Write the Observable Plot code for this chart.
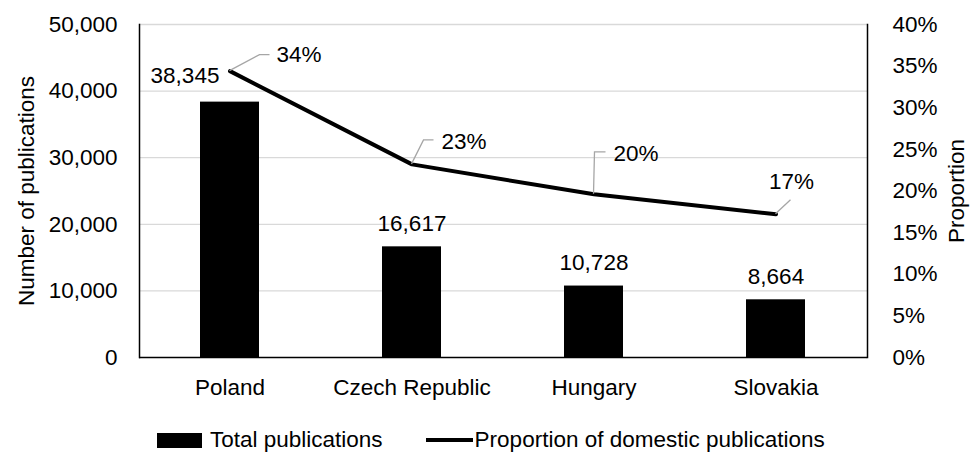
<!DOCTYPE html>
<html>
<head>
<meta charset="utf-8">
<script src="https://cdn.jsdelivr.net/npm/d3@7"></script>
<script src="https://cdn.jsdelivr.net/npm/@observablehq/plot@0.6"></script>
<style>
  html, body { margin: 0; padding: 0; background: #fff; }
  body { width: 975px; height: 454px; overflow: hidden; font-family: "Liberation Sans", Arial, sans-serif; }
  .legend { height: 39px; box-sizing: border-box; padding-left: 157px; padding-top: 11px; display: flex; align-items: center; font-size: 22.5px; color: #000; }
  .legend .sw { width: 45px; height: 15px; background: #000; margin-right: 8px; }
  .legend .ln { width: 47px; height: 4px; background: #000; margin-left: 43px; margin-right: 2px; }
</style>
</head>
<body>
<div id="chart"></div>
<div class="legend">
  <span class="sw"></span><span>Total publications</span>
  <span class="ln"></span><span>Proportion of domestic publications</span>
</div>
<script>
const countries = ["Poland", "Czech Republic", "Hungary", "Slovakia"];
const totals = [38345, 16617, 10728, 8664];
const proportions = [0.344, 0.232, 0.196, 0.172];
const countTicks = [0, 10000, 20000, 30000, 40000, 50000];
const propTicks = [0, 0.05, 0.10, 0.15, 0.20, 0.25, 0.30, 0.35, 0.40];

const countMax = 50000, propMax = 0.40;
const k = countMax / propMax; // maps proportion onto the count scale
const rows = countries.map((c, i) => ({country: c, total: totals[i], prop: proportions[i], propY: proportions[i] * k}));

const fmtCount = d3.format(",");
const fmtPct = d3.format(".0%");

// label layout for the proportion data labels (pixel offsets from each point)
const leaderLayout = [
  {path: [[30, -16], [40, -16]], tx: 47, ty: -16, anchor: "start"},
  {path: [[12, -24], [22, -24]], tx: 30, ty: -23, anchor: "start"},
  {path: [[1, -42], [12, -42]], tx: 20, ty: -41, anchor: "start"},
  {path: [[15, -14]], tx: 16, ty: -33, anchor: "middle"}
];

function leaders(index, scales) {
  const sx = scales.x, sy = scales.y;
  const bw = typeof sx.bandwidth === "function" ? sx.bandwidth() : (sx.bandwidth || 0);
  const g = d3.create("svg:g");
  rows.forEach((d, i) => {
    const px = sx(d.country) + bw / 2, py = sy(d.propY);
    const L = leaderLayout[i];
    const pts = [[px, py], ...L.path.map(([dx, dy]) => [px + dx, py + dy])];
    g.append("path").attr("d", d3.line()(pts)).attr("fill", "none").attr("stroke", "#a6a6a6").attr("stroke-width", 1.3);
    g.append("text").attr("x", px + L.tx).attr("y", py + L.ty).attr("dy", "0.35em")
      .attr("text-anchor", L.anchor).attr("fill", "#000").text(fmtPct(d.prop));
  });
  return g.node();
}

const chart = Plot.plot({
  width: 975,
  height: 415,
  marginTop: 24,
  marginBottom: 58,
  marginLeft: 139,
  marginRight: 108,
  style: {fontFamily: "'Liberation Sans', Arial, sans-serif", fontSize: "22.5px", color: "#000", background: "#fff"},
  x: {domain: countries, paddingInner: 0.675, paddingOuter: 0.3375},
  y: {domain: [0, countMax]},
  marks: [
    Plot.gridY(countTicks.slice(1), {stroke: "#d9d9d9", strokeOpacity: 1, strokeWidth: 1.3}),
    Plot.barY(rows, {x: "country", y: "total", fill: "#000"}),
    Plot.frame({anchor: "left", stroke: "#000", strokeWidth: 1.5}),
    Plot.frame({anchor: "right", stroke: "#000", strokeWidth: 1.5}),
    Plot.ruleY([0], {stroke: "#000", strokeWidth: 1.5}),
    Plot.lineY(rows, {x: "country", y: "propY", stroke: "#000", strokeWidth: 4, strokeLinejoin: "miter"}),
    Plot.text(rows.filter(d => d.country !== "Poland"), {x: "country", y: "total", text: d => fmtCount(d.total), lineAnchor: "bottom", dy: -16}),
    Plot.text(rows.filter(d => d.country === "Poland"), {x: "country", y: "total", text: d => fmtCount(d.total), lineAnchor: "bottom", dx: -45, dy: -19}),
    leaders,
    Plot.axisY(countTicks, {anchor: "left", tickSize: 0, tickPadding: 22, tickFormat: fmtCount,
      label: "Number of publications", labelAnchor: "center", labelOffset: 121, labelArrow: "none"}),
    Plot.axisY(propTicks.map(p => p * k), {anchor: "right", tickSize: 0, tickPadding: 25, tickFormat: v => fmtPct(v / k),
      label: "Proportion", labelAnchor: "center", labelOffset: 96, labelArrow: "none"}),
    Plot.axisX({tickSize: 0, tickPadding: 22, label: null})
  ]
});
document.getElementById("chart").appendChild(chart);
</script>
</body>
</html>
